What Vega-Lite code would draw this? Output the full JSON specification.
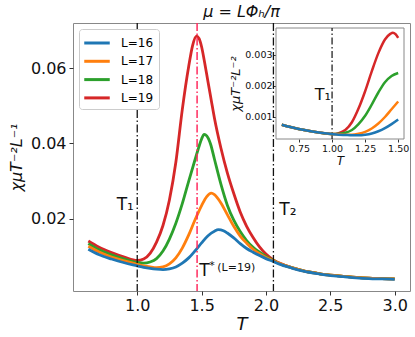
{
  "$schema": "https://vega.github.io/schema/vega-lite/v6.json",
  "width": 337,
  "height": 268,
  "autosize": {"type": "none"},
  "padding": {"left": 73, "top": 23, "right": 5, "bottom": 46},
  "config": {
    "view": {"stroke": "#888", "strokeWidth": 1},
    "font": "DejaVu Sans",
    "axis": {"grid": false, "domain": false, "tickColor": "#333", "labelColor": "#111", "titleColor": "#111", "labelFont": "DejaVu Sans", "titleFont": "DejaVu Sans"},
    "legend": {"orient": "top-left", "offset": 6, "padding": 5, "fillColor": "white", "strokeColor": "#ccc", "cornerRadius": 3, "symbolType": "M-1.7,0H1.7", "symbolStrokeWidth": 3, "symbolSize": 225, "symbolOffset": 4, "labelOffset": 15, "labelFontSize": 12, "labelFont": "DejaVu Sans", "rowPadding": 3.3}
  },
  "title": {"text": "μ = LΦₕ/π", "fontSize": 16, "fontStyle": "italic", "fontWeight": "normal", "offset": 2, "font": "DejaVu Sans", "color": "#111"},
  "datasets": {
    "main": [
      {"T":0.62,"v":0.0141,"L":"L=19"},{"T":0.7,"v":0.0125,"L":"L=19"},{"T":0.8,"v":0.0110,"L":"L=19"},{"T":0.9,"v":0.0098,"L":"L=19"},{"T":1.0,"v":0.0089,"L":"L=19"},{"T":1.05,"v":0.0093,"L":"L=19"},{"T":1.1,"v":0.0108,"L":"L=19"},{"T":1.15,"v":0.0138,"L":"L=19"},{"T":1.2,"v":0.0182,"L":"L=19"},{"T":1.25,"v":0.0250,"L":"L=19"},{"T":1.3,"v":0.0350,"L":"L=19"},{"T":1.35,"v":0.0490,"L":"L=19"},{"T":1.4,"v":0.0605,"L":"L=19"},{"T":1.43,"v":0.0660,"L":"L=19"},{"T":1.46,"v":0.0685,"L":"L=19"},{"T":1.48,"v":0.0679,"L":"L=19"},{"T":1.5,"v":0.0657,"L":"L=19"},{"T":1.52,"v":0.0622,"L":"L=19"},{"T":1.55,"v":0.0563,"L":"L=19"},{"T":1.575,"v":0.0515,"L":"L=19"},{"T":1.6,"v":0.0467,"L":"L=19"},{"T":1.65,"v":0.0388,"L":"L=19"},{"T":1.7,"v":0.0322,"L":"L=19"},{"T":1.75,"v":0.0267,"L":"L=19"},{"T":1.8,"v":0.0218,"L":"L=19"},{"T":1.85,"v":0.0180,"L":"L=19"},{"T":1.9,"v":0.0150,"L":"L=19"},{"T":1.95,"v":0.0125,"L":"L=19"},{"T":2.0,"v":0.0106,"L":"L=19"},{"T":2.06,"v":0.0090,"L":"L=19"},{"T":2.1,"v":0.0083,"L":"L=19"},{"T":2.2,"v":0.0070,"L":"L=19"},{"T":2.3,"v":0.0061,"L":"L=19"},{"T":2.4,"v":0.0055,"L":"L=19"},{"T":2.5,"v":0.0050,"L":"L=19"},{"T":2.6,"v":0.0047,"L":"L=19"},{"T":2.7,"v":0.0044,"L":"L=19"},{"T":2.8,"v":0.0042,"L":"L=19"},{"T":2.9,"v":0.0041,"L":"L=19"},{"T":3.0,"v":0.0040,"L":"L=19"},
      {"T":0.62,"v":0.0134,"L":"L=18"},{"T":0.7,"v":0.0118,"L":"L=18"},{"T":0.8,"v":0.0104,"L":"L=18"},{"T":0.9,"v":0.0093,"L":"L=18"},{"T":1.0,"v":0.0084,"L":"L=18"},{"T":1.05,"v":0.0082,"L":"L=18"},{"T":1.1,"v":0.0085,"L":"L=18"},{"T":1.15,"v":0.0094,"L":"L=18"},{"T":1.2,"v":0.0114,"L":"L=18"},{"T":1.25,"v":0.0146,"L":"L=18"},{"T":1.3,"v":0.0188,"L":"L=18"},{"T":1.35,"v":0.0240,"L":"L=18"},{"T":1.4,"v":0.0300,"L":"L=18"},{"T":1.45,"v":0.0358,"L":"L=18"},{"T":1.48,"v":0.0392,"L":"L=18"},{"T":1.5,"v":0.0412,"L":"L=18"},{"T":1.52,"v":0.0424,"L":"L=18"},{"T":1.54,"v":0.0420,"L":"L=18"},{"T":1.57,"v":0.0398,"L":"L=18"},{"T":1.6,"v":0.0358,"L":"L=18"},{"T":1.65,"v":0.0292,"L":"L=18"},{"T":1.7,"v":0.0236,"L":"L=18"},{"T":1.75,"v":0.0196,"L":"L=18"},{"T":1.8,"v":0.0166,"L":"L=18"},{"T":1.85,"v":0.0142,"L":"L=18"},{"T":1.9,"v":0.0124,"L":"L=18"},{"T":1.95,"v":0.0111,"L":"L=18"},{"T":2.0,"v":0.0100,"L":"L=18"},{"T":2.06,"v":0.0089,"L":"L=18"},{"T":2.1,"v":0.0082,"L":"L=18"},{"T":2.2,"v":0.0070,"L":"L=18"},{"T":2.3,"v":0.0061,"L":"L=18"},{"T":2.4,"v":0.0055,"L":"L=18"},{"T":2.5,"v":0.0050,"L":"L=18"},{"T":2.6,"v":0.0047,"L":"L=18"},{"T":2.7,"v":0.0044,"L":"L=18"},{"T":2.8,"v":0.0042,"L":"L=18"},{"T":2.9,"v":0.0041,"L":"L=18"},{"T":3.0,"v":0.0040,"L":"L=18"},
      {"T":0.62,"v":0.0127,"L":"L=17"},{"T":0.7,"v":0.0112,"L":"L=17"},{"T":0.8,"v":0.0098,"L":"L=17"},{"T":0.9,"v":0.0088,"L":"L=17"},{"T":1.0,"v":0.0079,"L":"L=17"},{"T":1.05,"v":0.0075,"L":"L=17"},{"T":1.1,"v":0.0072,"L":"L=17"},{"T":1.15,"v":0.0070,"L":"L=17"},{"T":1.2,"v":0.0072,"L":"L=17"},{"T":1.25,"v":0.0080,"L":"L=17"},{"T":1.3,"v":0.0096,"L":"L=17"},{"T":1.35,"v":0.0122,"L":"L=17"},{"T":1.4,"v":0.0157,"L":"L=17"},{"T":1.45,"v":0.0198,"L":"L=17"},{"T":1.5,"v":0.0235,"L":"L=17"},{"T":1.54,"v":0.0259,"L":"L=17"},{"T":1.575,"v":0.0268,"L":"L=17"},{"T":1.6,"v":0.0264,"L":"L=17"},{"T":1.65,"v":0.0242,"L":"L=17"},{"T":1.7,"v":0.0211,"L":"L=17"},{"T":1.75,"v":0.0180,"L":"L=17"},{"T":1.8,"v":0.0154,"L":"L=17"},{"T":1.85,"v":0.0135,"L":"L=17"},{"T":1.9,"v":0.0119,"L":"L=17"},{"T":1.95,"v":0.0107,"L":"L=17"},{"T":2.0,"v":0.0097,"L":"L=17"},{"T":2.06,"v":0.0088,"L":"L=17"},{"T":2.1,"v":0.0082,"L":"L=17"},{"T":2.2,"v":0.0070,"L":"L=17"},{"T":2.3,"v":0.0061,"L":"L=17"},{"T":2.4,"v":0.0055,"L":"L=17"},{"T":2.5,"v":0.0050,"L":"L=17"},{"T":2.6,"v":0.0047,"L":"L=17"},{"T":2.7,"v":0.0044,"L":"L=17"},{"T":2.8,"v":0.0042,"L":"L=17"},{"T":2.9,"v":0.0041,"L":"L=17"},{"T":3.0,"v":0.0040,"L":"L=17"},
      {"T":0.62,"v":0.0119,"L":"L=16"},{"T":0.7,"v":0.0105,"L":"L=16"},{"T":0.8,"v":0.0093,"L":"L=16"},{"T":0.9,"v":0.0083,"L":"L=16"},{"T":1.0,"v":0.0075,"L":"L=16"},{"T":1.05,"v":0.0071,"L":"L=16"},{"T":1.1,"v":0.0068,"L":"L=16"},{"T":1.15,"v":0.0066,"L":"L=16"},{"T":1.2,"v":0.0065,"L":"L=16"},{"T":1.25,"v":0.0067,"L":"L=16"},{"T":1.3,"v":0.0072,"L":"L=16"},{"T":1.35,"v":0.0082,"L":"L=16"},{"T":1.4,"v":0.0096,"L":"L=16"},{"T":1.45,"v":0.0115,"L":"L=16"},{"T":1.5,"v":0.0136,"L":"L=16"},{"T":1.55,"v":0.0155,"L":"L=16"},{"T":1.6,"v":0.0167,"L":"L=16"},{"T":1.63,"v":0.0171,"L":"L=16"},{"T":1.67,"v":0.0168,"L":"L=16"},{"T":1.7,"v":0.0162,"L":"L=16"},{"T":1.75,"v":0.0149,"L":"L=16"},{"T":1.8,"v":0.0134,"L":"L=16"},{"T":1.85,"v":0.0121,"L":"L=16"},{"T":1.9,"v":0.0111,"L":"L=16"},{"T":1.95,"v":0.0102,"L":"L=16"},{"T":2.0,"v":0.0094,"L":"L=16"},{"T":2.06,"v":0.0086,"L":"L=16"},{"T":2.1,"v":0.0080,"L":"L=16"},{"T":2.2,"v":0.0069,"L":"L=16"},{"T":2.3,"v":0.0060,"L":"L=16"},{"T":2.4,"v":0.0054,"L":"L=16"},{"T":2.5,"v":0.0049,"L":"L=16"},{"T":2.6,"v":0.0046,"L":"L=16"},{"T":2.7,"v":0.0043,"L":"L=16"},{"T":2.8,"v":0.0041,"L":"L=16"},{"T":2.9,"v":0.0040,"L":"L=16"},{"T":3.0,"v":0.0039,"L":"L=16"}
    ],
    "inset": [
      {"T":0.62,"v":0.00075,"L":"L=19"},{"T":0.7,"v":0.00066,"L":"L=19"},{"T":0.8,"v":0.00057,"L":"L=19"},{"T":0.9,"v":0.00050,"L":"L=19"},{"T":1.0,"v":0.00045,"L":"L=19"},{"T":1.05,"v":0.00048,"L":"L=19"},{"T":1.1,"v":0.00058,"L":"L=19"},{"T":1.15,"v":0.00083,"L":"L=19"},{"T":1.2,"v":0.00127,"L":"L=19"},{"T":1.25,"v":0.00183,"L":"L=19"},{"T":1.3,"v":0.00247,"L":"L=19"},{"T":1.35,"v":0.00306,"L":"L=19"},{"T":1.4,"v":0.00350,"L":"L=19"},{"T":1.44,"v":0.00368,"L":"L=19"},{"T":1.46,"v":0.00372,"L":"L=19"},{"T":1.48,"v":0.00367,"L":"L=19"},{"T":1.5,"v":0.00355,"L":"L=19"},
      {"T":0.62,"v":0.00075,"L":"L=18"},{"T":0.7,"v":0.00066,"L":"L=18"},{"T":0.8,"v":0.00057,"L":"L=18"},{"T":0.9,"v":0.00050,"L":"L=18"},{"T":1.0,"v":0.00045,"L":"L=18"},{"T":1.05,"v":0.00046,"L":"L=18"},{"T":1.1,"v":0.00049,"L":"L=18"},{"T":1.15,"v":0.00058,"L":"L=18"},{"T":1.2,"v":0.00077,"L":"L=18"},{"T":1.25,"v":0.00104,"L":"L=18"},{"T":1.3,"v":0.00140,"L":"L=18"},{"T":1.35,"v":0.00179,"L":"L=18"},{"T":1.4,"v":0.00212,"L":"L=18"},{"T":1.45,"v":0.00232,"L":"L=18"},{"T":1.5,"v":0.00242,"L":"L=18"},
      {"T":0.62,"v":0.00075,"L":"L=17"},{"T":0.7,"v":0.00066,"L":"L=17"},{"T":0.8,"v":0.00057,"L":"L=17"},{"T":0.9,"v":0.00050,"L":"L=17"},{"T":1.0,"v":0.00045,"L":"L=17"},{"T":1.05,"v":0.00044,"L":"L=17"},{"T":1.1,"v":0.00043,"L":"L=17"},{"T":1.15,"v":0.00043,"L":"L=17"},{"T":1.2,"v":0.00046,"L":"L=17"},{"T":1.25,"v":0.00052,"L":"L=17"},{"T":1.3,"v":0.00063,"L":"L=17"},{"T":1.35,"v":0.00079,"L":"L=17"},{"T":1.4,"v":0.00100,"L":"L=17"},{"T":1.45,"v":0.00125,"L":"L=17"},{"T":1.5,"v":0.00150,"L":"L=17"},
      {"T":0.62,"v":0.00075,"L":"L=16"},{"T":0.7,"v":0.00066,"L":"L=16"},{"T":0.8,"v":0.00057,"L":"L=16"},{"T":0.9,"v":0.00050,"L":"L=16"},{"T":1.0,"v":0.00045,"L":"L=16"},{"T":1.05,"v":0.00043,"L":"L=16"},{"T":1.1,"v":0.00042,"L":"L=16"},{"T":1.15,"v":0.00041,"L":"L=16"},{"T":1.2,"v":0.00041,"L":"L=16"},{"T":1.25,"v":0.00043,"L":"L=16"},{"T":1.3,"v":0.00047,"L":"L=16"},{"T":1.35,"v":0.00054,"L":"L=16"},{"T":1.4,"v":0.00064,"L":"L=16"},{"T":1.45,"v":0.00077,"L":"L=16"},{"T":1.5,"v":0.00092,"L":"L=16"}
    ],
    "blackLines": [{"T": 1.0}, {"T": 2.058}],
    "redLine": [{"T": 1.465}],
    "labels": [{"T": 0.907, "v": 0.0223, "text": "T₁"}, {"T": 2.17, "v": 0.0210, "text": "T₂"}, {"T": 1.523, "v": 0.0048, "text": "T"}],
    "smallLabels": [{"T": 1.581, "v": 0.0066, "text": "*"}, {"T": 1.769, "v": 0.0060, "text": "(L=19)"}],
    "insetLabels": [{"T": 0.93, "v": 0.00155, "text": "T₁"}]
  },
  "layer": [
    {
      "layer": [
        {
          "data": {"name": "main"},
          "mark": {"type": "line", "strokeWidth": 2.8, "interpolate": "monotone"},
          "encoding": {
            "x": {"field": "T", "type": "quantitative", "scale": {"domain": [0.501, 3.119], "nice": false, "zero": false},
                  "axis": {"values": [1, 1.5, 2, 2.5, 3], "format": ".1f", "labelFontSize": 16, "tickSize": 4, "labelPadding": 2, "title": "T", "titleFontSize": 18, "titleFontStyle": "italic", "titleFontWeight": "normal", "titlePadding": 2}},
            "y": {"field": "v", "type": "quantitative", "scale": {"domain": [0.0008, 0.072], "nice": false, "zero": false},
                  "axis": {"values": [0.02, 0.04, 0.06], "format": ".2f", "labelFontSize": 16, "tickSize": 4, "labelPadding": 3, "title": "χμT⁻²L⁻¹", "titleFontSize": 16, "titleFontStyle": "italic", "titleFontWeight": "normal", "titlePadding": 6}},
            "color": {"field": "L", "type": "nominal", "scale": {"domain": ["L=16", "L=17", "L=18", "L=19"], "range": ["#1f77b4", "#ff7f0e", "#2ca02c", "#d62728"]}, "legend": {"title": null}}
          }
        },
        {
          "data": {"name": "blackLines"},
          "mark": {"type": "rule", "color": "#111", "strokeWidth": 1.3, "strokeDash": [8, 2.5, 1.5, 2.5]},
          "encoding": {"x": {"field": "T", "type": "quantitative"}}
        },
        {
          "data": {"name": "redLine"},
          "mark": {"type": "rule", "color": "#ff2d5f", "strokeWidth": 1.5, "strokeDash": [8, 2.5, 1.5, 2.5]},
          "encoding": {"x": {"field": "T", "type": "quantitative"}}
        },
        {
          "data": {"name": "labels"},
          "mark": {"type": "text", "fontSize": 17, "align": "center", "baseline": "alphabetic", "color": "#111", "font": "DejaVu Sans"},
          "encoding": {"x": {"field": "T", "type": "quantitative"}, "y": {"field": "v", "type": "quantitative"}, "text": {"field": "text"}}
        },
        {
          "data": {"name": "smallLabels"},
          "mark": {"type": "text", "fontSize": 11, "align": "center", "baseline": "alphabetic", "color": "#111", "font": "DejaVu Sans"},
          "encoding": {"x": {"field": "T", "type": "quantitative"}, "y": {"field": "v", "type": "quantitative"}, "text": {"field": "text"}}
        }
      ]
    },
    {
      "layer": [
        {
          "data": {"values": [{}]},
          "mark": {"type": "rect", "fill": "white", "stroke": "#888", "strokeWidth": 1},
          "encoding": {
            "x": {"datum": 0.576, "type": "quantitative", "scale": {"domain": [0.576, 1.544], "range": [203, 331], "nice": false, "zero": false},
                  "axis": {"orient": "bottom", "offset": -152, "values": [0.75, 1, 1.25, 1.5], "format": ".2f", "labelFontSize": 9.5, "tickSize": 3, "labelPadding": 1, "title": "T", "titleFontSize": 12, "titleFontStyle": "italic", "titleFontWeight": "normal", "titlePadding": 3}},
            "x2": {"datum": 1.544},
            "y": {"datum": 0.00029, "type": "quantitative", "scale": {"domain": [0.00029, 0.00387], "range": [116, 5], "nice": false, "zero": false},
                  "axis": {"orient": "left", "offset": -203, "values": [0.001, 0.002, 0.003], "format": ".3f", "labelFontSize": 9.5, "tickSize": 3, "labelPadding": 1, "title": "χμT⁻²L⁻²", "titleFontSize": 13, "titleFontStyle": "italic", "titleFontWeight": "normal", "titlePadding": 2}},
            "y2": {"datum": 0.00387}
          }
        },
        {
          "data": {"values": [{}]},
          "mark": {"type": "rule", "color": "#111", "strokeWidth": 1.2, "strokeDash": [7, 2.5, 1.5, 2.5]},
          "encoding": {"x": {"datum": 1.0, "type": "quantitative"}, "y": {"datum": 0.00029, "type": "quantitative"}, "y2": {"datum": 0.00387}}
        },
        {
          "data": {"name": "inset"},
          "mark": {"type": "line", "strokeWidth": 2.5, "interpolate": "monotone"},
          "encoding": {
            "x": {"field": "T", "type": "quantitative"},
            "y": {"field": "v", "type": "quantitative"},
            "color": {"field": "L", "type": "nominal", "legend": null}
          }
        },
        {
          "data": {"name": "insetLabels"},
          "mark": {"type": "text", "fontSize": 16, "align": "center", "baseline": "alphabetic", "color": "#111", "font": "DejaVu Sans"},
          "encoding": {"x": {"field": "T", "type": "quantitative"}, "y": {"field": "v", "type": "quantitative"}, "text": {"field": "text"}}
        }
      ]
    }
  ],
  "resolve": {"scale": {"x": "independent", "y": "independent"}}
}
